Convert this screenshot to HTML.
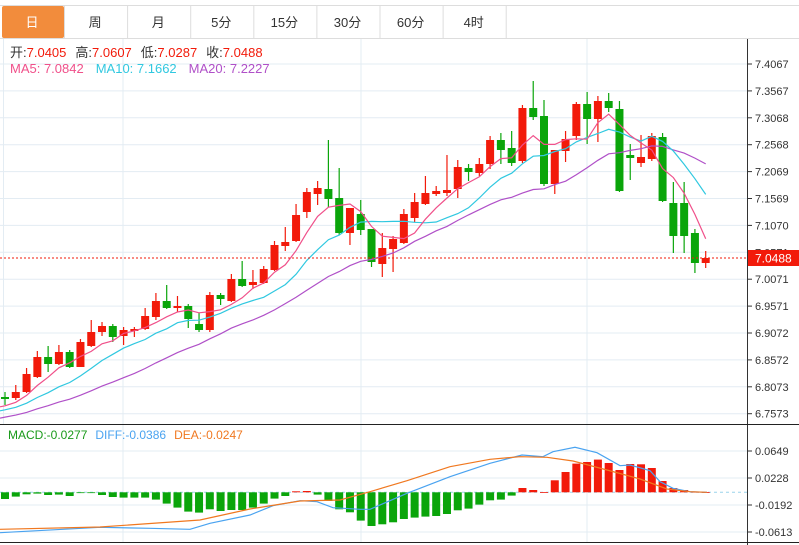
<!DOCTYPE html>
<html><head><meta charset="utf-8"><style>
html,body{margin:0;padding:0;background:#fff;width:799px;height:545px;overflow:hidden;font-family:"Liberation Sans","Noto Sans CJK SC",sans-serif}
svg{position:absolute;left:0;top:0}
</style></head><body>
<svg id="s" width="799" height="545" xmlns="http://www.w3.org/2000/svg" font-family="Liberation Sans, Noto Sans CJK SC, sans-serif"></svg>
<script>
const s=document.getElementById('s');let h='';
const R='#f21a0a',G='#0aa50a',GR='#e3ecf3';
h+=`<rect x="0" y="0" width="799" height="38" fill="#fff"/><line x1="0" y1="5.5" x2="799" y2="5.5" stroke="#ddd"/><line x1="0" y1="38.5" x2="799" y2="38.5" stroke="#ddd"/>`;
h+=`<rect x="2" y="6" width="62" height="32" rx="2" fill="#f28c3c"/>`;
const tabs=['日','周','月','5分','15分','30分','60分','4时'];
tabs.forEach((t,i)=>{const x=i*63.1;h+=`<line x1="${x+64.5}" y1="6" x2="${x+64.5}" y2="38" stroke="#ddd"/><text x="${x+32}" y="27" font-size="13" text-anchor="middle" fill="${i?'#333':'#fff'}">${t}</text>`});
const ticks=['7.4067','7.3567','7.3068','7.2568','7.2069','7.1569','7.1070','7.0571','7.0071','6.9571','6.9072','6.8572','6.8073','6.7573'];
ticks.forEach((t,i)=>{const y=64+i*26.9;h+=`<line x1="0" y1="${y}" x2="747" y2="${y}" stroke="${GR}"/><line x1="747" y1="${y}" x2="752" y2="${y}" stroke="#333"/><text x="755" y="${y+4}" font-size="11" fill="#333">${t}</text>`});
[123,361,587].forEach(x=>{h+=`<line x1="${x}" y1="39" x2="${x}" y2="424" stroke="${GR}"/><line x1="${x}" y1="425" x2="${x}" y2="542" stroke="${GR}"/>`});
h+=`<line x1="3.5" y1="39" x2="3.5" y2="424" stroke="${GR}"/>`;
const mt=[['0.0649',451],['0.0228',478],['-0.0192',505],['-0.0613',532]];
mt.forEach(([t,y])=>{h+=`<line x1="0" y1="${y}" x2="747" y2="${y}" stroke="${GR}"/><line x1="747" y1="${y}" x2="752" y2="${y}" stroke="#333"/><text x="755" y="${y+4}" font-size="11" fill="#333">${t}</text>`});
h+=`<line x1="747.5" y1="39" x2="747.5" y2="545" stroke="#333"/><line x1="0" y1="424.5" x2="799" y2="424.5" stroke="#222"/><line x1="0" y1="542.5" x2="799" y2="542.5" stroke="#222"/>`;
const C=[[0,397,399,392,405],[1,392,398,385,400],[1,374,392,368,393],[1,357,377,351,378],[0,357,364,346,372],[1,352,364,345,365],[0,352,367,350,368],[1,342,367,339,367],[1,332,346,320,347],[1,326,332,322,336],[0,326,337,324,342],[1,330,336,327,345],[1,329,331,327,337],[1,316,329,308,330],[1,301,317,293,320],[0,301,308,285,309],[1,306,308,296,312],[0,306,319,304,328],[0,324,330,313,332],[1,295,330,292,332],[0,295,299,293,305],[1,279,301,274,302],[0,279,286,261,287],[1,282,285,270,289],[1,269,283,266,284],[1,245,270,241,271],[1,242,246,227,251],[1,215,241,204,242],[1,192,212,188,218],[1,188,194,181,205],[0,189,199,140,207],[0,198,233,168,235],[1,208,233,208,245],[0,214,230,200,235],[0,229,262,229,267],[1,248,264,233,277],[1,239,249,236,272],[1,214,243,209,244],[1,202,218,193,222],[1,193,204,176,205],[1,191,194,186,196],[1,190,193,155,196],[1,167,189,160,198],[0,168,172,164,181],[1,164,173,158,176],[1,140,164,136,169],[0,140,150,133,164],[0,148,163,131,166],[1,108,161,105,163],[0,108,117,81,120],[0,116,184,100,186],[1,150,184,150,194],[1,139,151,131,162],[1,104,136,102,140],[0,104,119,92,144],[1,101,119,96,142],[0,101,108,93,112],[0,109,191,101,192],[0,155,158,144,180],[1,157,163,135,167],[1,136,159,133,161],[0,137,201,133,202],[0,203,236,182,253],[0,203,236,182,253],[0,233,263,229,273],[1,258,263,251,268]];
const X=i=>5+i*10.78;
const closes=C.map(c=>c[0]?c[1]:c[2]);
const pre=[];for(let i=0;i<20;i++)pre.push(432-i*1.4);
const all=pre.concat(closes);
function ma(n){let p=[];for(let i=0;i<C.length;i++){let k=i+20,sum=0;for(let j=0;j<n;j++)sum+=all[k-j];p.push([X(i),sum/n])}p.unshift([0,p[0][1]+1]);return p.map(q=>q[0].toFixed(1)+','+q[1].toFixed(1)).join(' ')}
C.forEach((c,i)=>{const x=X(i),col=c[0]?R:G;h+=`<line x1="${x}" y1="${c[3]}" x2="${x}" y2="${c[4]}" stroke="${col}" stroke-width="1.2"/><rect x="${x-4}" y="${c[1]}" width="8" height="${Math.max(1.5,c[2]-c[1])}" fill="${col}"/>`});
h+=`<polyline points="${ma(20)}" fill="none" stroke="#b050c8" stroke-width="1.2"/>`;
h+=`<polyline points="${ma(10)}" fill="none" stroke="#30c8e0" stroke-width="1.2"/>`;
h+=`<polyline points="${ma(5)}" fill="none" stroke="#f0508a" stroke-width="1.2"/>`;
h+=`<line x1="0" y1="258" x2="747" y2="258" stroke="${R}" stroke-dasharray="2,2"/><rect x="748" y="250" width="51" height="16" fill="${R}"/><text x="755" y="262.5" font-size="12" fill="#fff">7.0488</text>`;
h+=`<text x="10" y="57" font-size="13"><tspan fill="#333">开:</tspan><tspan fill="${R}">7.0405</tspan><tspan fill="#333" dx="9">高:</tspan><tspan fill="${R}">7.0607</tspan><tspan fill="#333" dx="9">低:</tspan><tspan fill="${R}">7.0287</tspan><tspan fill="#333" dx="9">收:</tspan><tspan fill="${R}">7.0488</tspan></text>`;
h+=`<text x="10" y="73" font-size="13"><tspan fill="#f0508a">MA5: 7.0842</tspan><tspan fill="#30c8e0" dx="12">MA10: 7.1662</tspan><tspan fill="#b050c8" dx="12">MA20: 7.2227</tspan></text>`;
h+=`<text x="8" y="439" font-size="12"><tspan fill="#1a9a1a">MACD:-0.0277</tspan><tspan fill="#4aa3f0" dx="8">DIFF:-0.0386</tspan><tspan fill="#f07820" dx="8">DEA:-0.0247</tspan></text>`;
const M=[-6.7,-4.3,-2,-1.3,-2.7,-2.3,-3.7,-0.3,-0.3,-2.7,-4.7,-5.3,-5.3,-5.3,-7.3,-11.3,-15.3,-19.3,-20.3,-17,-18.7,-17.7,-17.7,-15.3,-11.3,-6.3,-3.7,1,1.3,-2.3,-8.7,-17,-20,-28.3,-33.7,-32,-30,-26.7,-25.3,-24.3,-23.7,-21.7,-18,-16.3,-12.3,-8,-7.3,-3.3,4.3,2.3,0.3,12,20.3,28.7,30.3,32.7,29.3,22.3,28.3,28,24.3,11.3,4.3,2.3,0.5,0.3];
const Z=492.3;
h+=`<line x1="0" y1="${Z}" x2="747" y2="${Z}" stroke="#9ad4ec" stroke-dasharray="3,3"/>`;
M.forEach((v,i)=>{const x=X(i);h+=`<rect x="${x-4}" y="${v>0?Z-v:Z}" width="8" height="${Math.max(0.8,Math.abs(v))}" fill="${v>0?R:G}"/>`});
const dea=[[0,529.3],[100,527],[200,520],[250,509],[300,501],[340,500],[370,491.7],[407,480.7],[450,466.7],[490,459.3],[520,456.7],[547,457.3],[573,461],[607,470],[640,479],[667,489],[690,491.7],[707,492.3]];
const dif=[[0,532.7],[100,527.3],[150,528.3],[190,529.3],[210,523.3],[250,515],[273,505.7],[300,500.7],[317,501.7],[333,507.7],[360,509.3],[370,509.3],[407,493.3],[450,476.7],[490,463.3],[522,455],[543,456.7],[553,451.7],[575,447.3],[597,452.7],[620,465.7],[630,465],[650,470.7],[660,481.7],[673,488.3],[690,491.7],[707,492.3]];
h+=`<polyline points="${dif.map(p=>p.join(',')).join(' ')}" fill="none" stroke="#4aa3f0" stroke-width="1.2"/>`;
h+=`<polyline points="${dea.map(p=>p.join(',')).join(' ')}" fill="none" stroke="#f07820" stroke-width="1.2"/>`;
s.innerHTML=h;
</script>
</body></html>
